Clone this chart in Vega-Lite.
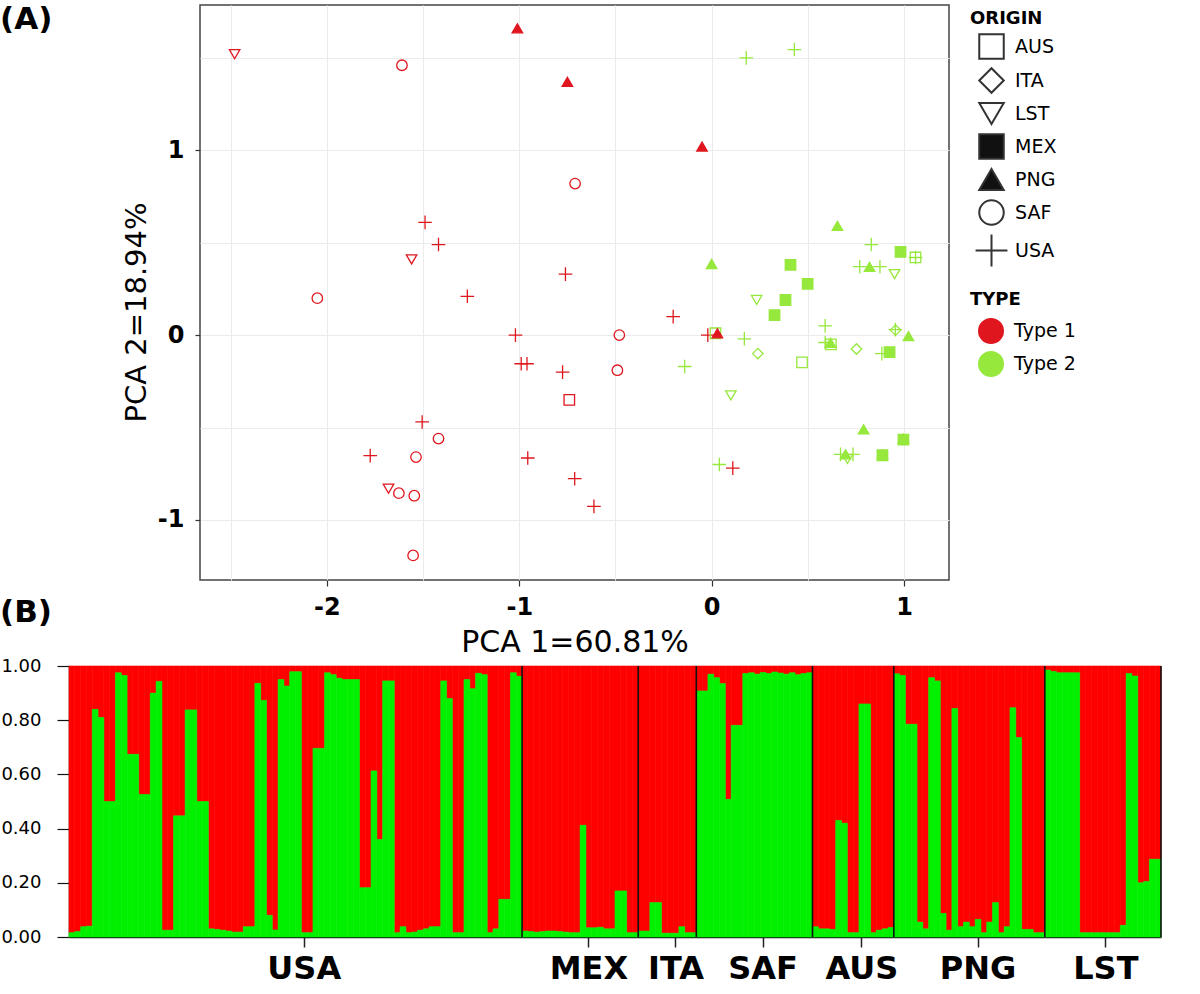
{
  "$schema": "https://vega.github.io/schema/vega-lite/v6.json",
  "padding": {"left": 0, "top": 4, "right": 0, "bottom": 0},
  "background": "white",
  "config": {"font": "DejaVu Sans", "view": {"stroke": "#444", "strokeWidth": 1.5}},
  "datasets": {
    "pca": [
      {"pc1": -2.48, "pc2": 1.52, "origin": "LST", "type": "Type 1"},
      {"pc1": -1.61, "pc2": 1.46, "origin": "SAF", "type": "Type 1"},
      {"pc1": -1.01, "pc2": 1.66, "origin": "PNG", "type": "Type 1"},
      {"pc1": -0.75, "pc2": 1.37, "origin": "PNG", "type": "Type 1"},
      {"pc1": -0.05, "pc2": 1.02, "origin": "PNG", "type": "Type 1"},
      {"pc1": -0.71, "pc2": 0.82, "origin": "SAF", "type": "Type 1"},
      {"pc1": -1.49, "pc2": 0.61, "origin": "USA", "type": "Type 1"},
      {"pc1": -1.42, "pc2": 0.49, "origin": "USA", "type": "Type 1"},
      {"pc1": -1.56, "pc2": 0.41, "origin": "LST", "type": "Type 1"},
      {"pc1": -0.76, "pc2": 0.33, "origin": "USA", "type": "Type 1"},
      {"pc1": -2.05, "pc2": 0.2, "origin": "SAF", "type": "Type 1"},
      {"pc1": -1.27, "pc2": 0.21, "origin": "USA", "type": "Type 1"},
      {"pc1": -1.02, "pc2": 0.0, "origin": "USA", "type": "Type 1"},
      {"pc1": -0.48, "pc2": 0.0, "origin": "SAF", "type": "Type 1"},
      {"pc1": -0.99, "pc2": -0.155, "origin": "USA", "type": "Type 1"},
      {"pc1": -0.96, "pc2": -0.155, "origin": "USA", "type": "Type 1"},
      {"pc1": -0.775, "pc2": -0.2, "origin": "USA", "type": "Type 1"},
      {"pc1": -0.49, "pc2": -0.19, "origin": "SAF", "type": "Type 1"},
      {"pc1": -0.74, "pc2": -0.35, "origin": "AUS", "type": "Type 1"},
      {"pc1": -1.505, "pc2": -0.47, "origin": "USA", "type": "Type 1"},
      {"pc1": -1.42, "pc2": -0.56, "origin": "SAF", "type": "Type 1"},
      {"pc1": -1.775, "pc2": -0.652, "origin": "USA", "type": "Type 1"},
      {"pc1": -1.537, "pc2": -0.66, "origin": "SAF", "type": "Type 1"},
      {"pc1": -0.956, "pc2": -0.665, "origin": "USA", "type": "Type 1"},
      {"pc1": -0.712, "pc2": -0.777, "origin": "USA", "type": "Type 1"},
      {"pc1": -1.68, "pc2": -0.831, "origin": "LST", "type": "Type 1"},
      {"pc1": -1.626, "pc2": -0.855, "origin": "SAF", "type": "Type 1"},
      {"pc1": -1.546, "pc2": -0.869, "origin": "SAF", "type": "Type 1"},
      {"pc1": -0.612, "pc2": -0.927, "origin": "USA", "type": "Type 1"},
      {"pc1": -1.552, "pc2": -1.192, "origin": "SAF", "type": "Type 1"},
      {"pc1": -0.2, "pc2": 0.1, "origin": "USA", "type": "Type 1"},
      {"pc1": -0.02, "pc2": 0.0, "origin": "USA", "type": "Type 1"},
      {"pc1": 0.11, "pc2": -0.72, "origin": "USA", "type": "Type 1"},
      {"pc1": 0.18, "pc2": 1.5, "origin": "USA", "type": "Type 2"},
      {"pc1": 0.43, "pc2": 1.545, "origin": "USA", "type": "Type 2"},
      {"pc1": 0.83, "pc2": 0.49, "origin": "USA", "type": "Type 2"},
      {"pc1": 0.77, "pc2": 0.37, "origin": "USA", "type": "Type 2"},
      {"pc1": 0.875, "pc2": 0.37, "origin": "USA", "type": "Type 2"},
      {"pc1": 1.06, "pc2": 0.42, "origin": "USA", "type": "Type 2"},
      {"pc1": 0.59, "pc2": 0.05, "origin": "USA", "type": "Type 2"},
      {"pc1": 0.59, "pc2": -0.04, "origin": "USA", "type": "Type 2"},
      {"pc1": 0.17, "pc2": -0.02, "origin": "USA", "type": "Type 2"},
      {"pc1": -0.14, "pc2": -0.17, "origin": "USA", "type": "Type 2"},
      {"pc1": 0.955, "pc2": 0.03, "origin": "USA", "type": "Type 2"},
      {"pc1": 0.885, "pc2": -0.1, "origin": "USA", "type": "Type 2"},
      {"pc1": 0.04, "pc2": -0.7, "origin": "USA", "type": "Type 2"},
      {"pc1": 0.67, "pc2": -0.645, "origin": "USA", "type": "Type 2"},
      {"pc1": 0.735, "pc2": -0.645, "origin": "USA", "type": "Type 2"},
      {"pc1": 1.06, "pc2": 0.42, "origin": "AUS", "type": "Type 2"},
      {"pc1": 0.02, "pc2": 0.01, "origin": "AUS", "type": "Type 2"},
      {"pc1": 0.62, "pc2": -0.05, "origin": "AUS", "type": "Type 2"},
      {"pc1": 0.47, "pc2": -0.148, "origin": "AUS", "type": "Type 2"},
      {"pc1": 0.24, "pc2": -0.1, "origin": "ITA", "type": "Type 2"},
      {"pc1": 0.753, "pc2": -0.075, "origin": "ITA", "type": "Type 2"},
      {"pc1": 0.956, "pc2": 0.027, "origin": "ITA", "type": "Type 2"},
      {"pc1": 0.951, "pc2": 0.33, "origin": "LST", "type": "Type 2"},
      {"pc1": 0.234, "pc2": 0.19, "origin": "LST", "type": "Type 2"},
      {"pc1": 0.1, "pc2": -0.326, "origin": "LST", "type": "Type 2"},
      {"pc1": 0.706, "pc2": -0.67, "origin": "LST", "type": "Type 2"},
      {"pc1": 0.982, "pc2": 0.45, "origin": "MEX", "type": "Type 2"},
      {"pc1": 0.41, "pc2": 0.38, "origin": "MEX", "type": "Type 2"},
      {"pc1": 0.499, "pc2": 0.277, "origin": "MEX", "type": "Type 2"},
      {"pc1": 0.384, "pc2": 0.19, "origin": "MEX", "type": "Type 2"},
      {"pc1": 0.327, "pc2": 0.108, "origin": "MEX", "type": "Type 2"},
      {"pc1": 0.925, "pc2": -0.092, "origin": "MEX", "type": "Type 2"},
      {"pc1": 0.997, "pc2": -0.565, "origin": "MEX", "type": "Type 2"},
      {"pc1": 0.888, "pc2": -0.65, "origin": "MEX", "type": "Type 2"},
      {"pc1": 0.654, "pc2": 0.591, "origin": "PNG", "type": "Type 2"},
      {"pc1": 0.0, "pc2": 0.385, "origin": "PNG", "type": "Type 2"},
      {"pc1": 0.821, "pc2": 0.369, "origin": "PNG", "type": "Type 2"},
      {"pc1": 0.618, "pc2": -0.042, "origin": "PNG", "type": "Type 2"},
      {"pc1": 1.023, "pc2": -0.005, "origin": "PNG", "type": "Type 2"},
      {"pc1": 0.79, "pc2": -0.51, "origin": "PNG", "type": "Type 2"},
      {"pc1": 0.696, "pc2": -0.645, "origin": "PNG", "type": "Type 2"},
      {"pc1": 0.997, "pc2": -0.56, "origin": "PNG", "type": "Type 2"},
      {"pc1": 0.888, "pc2": -0.645, "origin": "PNG", "type": "Type 2"},
      {"pc1": 0.03, "pc2": 0.01, "origin": "PNG", "type": "Type 1"}
    ],
    "struct": [
      {"id": "USA-01", "q": 0.016}, {"id": "USA-02", "q": 0.02}, {"id": "USA-03", "q": 0.038}, {"id": "USA-04", "q": 0.04}, {"id": "USA-05", "q": 0.84},
      {"id": "USA-06", "q": 0.81}, {"id": "USA-07", "q": 0.5}, {"id": "USA-08", "q": 0.5}, {"id": "USA-09", "q": 0.975}, {"id": "USA-10", "q": 0.965},
      {"id": "USA-11", "q": 0.674}, {"id": "USA-12", "q": 0.674}, {"id": "USA-13", "q": 0.526}, {"id": "USA-14", "q": 0.526}, {"id": "USA-15", "q": 0.9},
      {"id": "USA-16", "q": 0.943}, {"id": "USA-17", "q": 0.025}, {"id": "USA-18", "q": 0.025}, {"id": "USA-19", "q": 0.447}, {"id": "USA-20", "q": 0.447},
      {"id": "USA-21", "q": 0.838}, {"id": "USA-22", "q": 0.838}, {"id": "USA-23", "q": 0.5}, {"id": "USA-24", "q": 0.5}, {"id": "USA-25", "q": 0.03},
      {"id": "USA-26", "q": 0.028}, {"id": "USA-27", "q": 0.025}, {"id": "USA-28", "q": 0.022}, {"id": "USA-29", "q": 0.018}, {"id": "USA-30", "q": 0.018},
      {"id": "USA-31", "q": 0.038}, {"id": "USA-32", "q": 0.038}, {"id": "USA-33", "q": 0.936}, {"id": "USA-34", "q": 0.873}, {"id": "USA-35", "q": 0.08},
      {"id": "USA-36", "q": 0.026}, {"id": "USA-37", "q": 0.95}, {"id": "USA-38", "q": 0.926}, {"id": "USA-39", "q": 0.979}, {"id": "USA-40", "q": 0.979},
      {"id": "USA-41", "q": 0.016}, {"id": "USA-42", "q": 0.016}, {"id": "USA-43", "q": 0.696}, {"id": "USA-44", "q": 0.696}, {"id": "USA-45", "q": 0.975},
      {"id": "USA-46", "q": 0.968}, {"id": "USA-47", "q": 0.955}, {"id": "USA-48", "q": 0.95}, {"id": "USA-49", "q": 0.95}, {"id": "USA-50", "q": 0.95},
      {"id": "USA-51", "q": 0.182}, {"id": "USA-52", "q": 0.182}, {"id": "USA-53", "q": 0.613}, {"id": "USA-54", "q": 0.36}, {"id": "USA-55", "q": 0.945},
      {"id": "USA-56", "q": 0.945}, {"id": "USA-57", "q": 0.016}, {"id": "USA-58", "q": 0.038}, {"id": "USA-59", "q": 0.016}, {"id": "USA-60", "q": 0.018},
      {"id": "USA-61", "q": 0.025}, {"id": "USA-62", "q": 0.03}, {"id": "USA-63", "q": 0.038}, {"id": "USA-64", "q": 0.038}, {"id": "USA-65", "q": 0.945},
      {"id": "USA-66", "q": 0.88}, {"id": "USA-67", "q": 0.016}, {"id": "USA-68", "q": 0.016}, {"id": "USA-69", "q": 0.95}, {"id": "USA-70", "q": 0.916},
      {"id": "USA-71", "q": 0.973}, {"id": "USA-72", "q": 0.968}, {"id": "USA-73", "q": 0.016}, {"id": "USA-74", "q": 0.03}, {"id": "USA-75", "q": 0.139},
      {"id": "USA-76", "q": 0.139}, {"id": "USA-77", "q": 0.975}, {"id": "USA-78", "q": 0.962},
      {"id": "MEX-01", "q": 0.022}, {"id": "MEX-02", "q": 0.02}, {"id": "MEX-03", "q": 0.018}, {"id": "MEX-04", "q": 0.02}, {"id": "MEX-05", "q": 0.022},
      {"id": "MEX-06", "q": 0.022}, {"id": "MEX-07", "q": 0.02}, {"id": "MEX-08", "q": 0.018}, {"id": "MEX-09", "q": 0.016}, {"id": "MEX-10", "q": 0.016},
      {"id": "MEX-11", "q": 0.412}, {"id": "MEX-12", "q": 0.034}, {"id": "MEX-13", "q": 0.034}, {"id": "MEX-14", "q": 0.036}, {"id": "MEX-15", "q": 0.03},
      {"id": "MEX-16", "q": 0.03}, {"id": "MEX-17", "q": 0.17}, {"id": "MEX-18", "q": 0.17}, {"id": "MEX-19", "q": 0.016}, {"id": "MEX-20", "q": 0.016},
      {"id": "ITA-01", "q": 0.022}, {"id": "ITA-02", "q": 0.022}, {"id": "ITA-03", "q": 0.127}, {"id": "ITA-04", "q": 0.127}, {"id": "ITA-05", "q": 0.014},
      {"id": "ITA-06", "q": 0.014}, {"id": "ITA-07", "q": 0.014}, {"id": "ITA-08", "q": 0.038}, {"id": "ITA-09", "q": 0.016}, {"id": "ITA-10", "q": 0.016},
      {"id": "SAF-01", "q": 0.908}, {"id": "SAF-02", "q": 0.908}, {"id": "SAF-03", "q": 0.97}, {"id": "SAF-04", "q": 0.957}, {"id": "SAF-05", "q": 0.935},
      {"id": "SAF-06", "q": 0.508}, {"id": "SAF-07", "q": 0.781}, {"id": "SAF-08", "q": 0.781}, {"id": "SAF-09", "q": 0.972}, {"id": "SAF-10", "q": 0.975},
      {"id": "SAF-11", "q": 0.97}, {"id": "SAF-12", "q": 0.976}, {"id": "SAF-13", "q": 0.972}, {"id": "SAF-14", "q": 0.978}, {"id": "SAF-15", "q": 0.974},
      {"id": "SAF-16", "q": 0.97}, {"id": "SAF-17", "q": 0.975}, {"id": "SAF-18", "q": 0.968}, {"id": "SAF-19", "q": 0.972}, {"id": "SAF-20", "q": 0.975},
      {"id": "AUS-01", "q": 0.038}, {"id": "AUS-02", "q": 0.03}, {"id": "AUS-03", "q": 0.03}, {"id": "AUS-04", "q": 0.028}, {"id": "AUS-05", "q": 0.43},
      {"id": "AUS-06", "q": 0.42}, {"id": "AUS-07", "q": 0.016}, {"id": "AUS-08", "q": 0.016}, {"id": "AUS-09", "q": 0.86}, {"id": "AUS-10", "q": 0.86},
      {"id": "AUS-11", "q": 0.016}, {"id": "AUS-12", "q": 0.025}, {"id": "AUS-13", "q": 0.03}, {"id": "AUS-14", "q": 0.035},
      {"id": "PNG-01", "q": 0.971}, {"id": "PNG-02", "q": 0.965}, {"id": "PNG-03", "q": 0.785}, {"id": "PNG-04", "q": 0.785}, {"id": "PNG-05", "q": 0.055},
      {"id": "PNG-06", "q": 0.03}, {"id": "PNG-07", "q": 0.957}, {"id": "PNG-08", "q": 0.945}, {"id": "PNG-09", "q": 0.087}, {"id": "PNG-10", "q": 0.025},
      {"id": "PNG-11", "q": 0.843}, {"id": "PNG-12", "q": 0.038}, {"id": "PNG-13", "q": 0.055}, {"id": "PNG-14", "q": 0.038}, {"id": "PNG-15", "q": 0.065},
      {"id": "PNG-16", "q": 0.016}, {"id": "PNG-17", "q": 0.055}, {"id": "PNG-18", "q": 0.127}, {"id": "PNG-19", "q": 0.016}, {"id": "PNG-20", "q": 0.038},
      {"id": "PNG-21", "q": 0.846}, {"id": "PNG-22", "q": 0.736}, {"id": "PNG-23", "q": 0.028}, {"id": "PNG-24", "q": 0.028}, {"id": "PNG-25", "q": 0.016},
      {"id": "PNG-26", "q": 0.016},
      {"id": "LST-01", "q": 0.985}, {"id": "LST-02", "q": 0.98}, {"id": "LST-03", "q": 0.975}, {"id": "LST-04", "q": 0.975}, {"id": "LST-05", "q": 0.975},
      {"id": "LST-06", "q": 0.975}, {"id": "LST-07", "q": 0.016}, {"id": "LST-08", "q": 0.016}, {"id": "LST-09", "q": 0.016}, {"id": "LST-10", "q": 0.016},
      {"id": "LST-11", "q": 0.016}, {"id": "LST-12", "q": 0.016}, {"id": "LST-13", "q": 0.016}, {"id": "LST-14", "q": 0.043}, {"id": "LST-15", "q": 0.972},
      {"id": "LST-16", "q": 0.963}, {"id": "LST-17", "q": 0.2}, {"id": "LST-18", "q": 0.205}, {"id": "LST-19", "q": 0.287}, {"id": "LST-20", "q": 0.287}
    ]
  },
  "vconcat": [
    {
      "hconcat": [
        {
          "width": 52,
          "height": 10,
          "view": {"stroke": null},
          "title": {"text": "(A)", "anchor": "start", "frame": "group", "dx": -69, "dy": 32, "offset": 0, "baseline": "top", "fontSize": 31, "font": "DejaVu Sans", "fontWeight": "bold", "color": "black"},
          "data": {"values": [{"label": ""}]},
          "mark": {"type": "text"},
          "encoding": {"text": {"field": "label"}}
        },
        {
          "width": 749,
          "height": 575,
          "data": {"name": "pca"},
          "mark": {"type": "point", "filled": false, "size": 110, "strokeWidth": 1.3, "opacity": 1},
          "encoding": {
            "x": {
              "field": "pc1", "type": "quantitative",
              "scale": {"domain": [-2.66, 1.234], "nice": false, "zero": false},
              "axis": {
                "values": [-2.5, -2, -1.5, -1, -0.5, 0, 0.5, 1],
                "grid": true, "gridColor": "#ebebeb", "gridWidth": 1, "domain": false,
                "tickColor": {"condition": {"test": "datum.value % 1 !== 0", "value": "transparent"}, "value": "#333"},
                "tickSize": 6, "tickWidth": 1.2,
                "labelExpr": "datum.value % 1 === 0 ? (datum.value < 0 ? '-' : '') + abs(datum.value) : ''",
                "labelFont": "DejaVu Sans", "labelFontWeight": "bold", "labelFontSize": 24, "labelColor": "black", "labelPadding": 9,
                "title": "PCA 1=60.81%", "titleFont": "DejaVu Sans", "titleFontWeight": "normal", "titleFontSize": 30, "titleColor": "black", "titlePadding": 8
              }
            },
            "y": {
              "field": "pc2", "type": "quantitative",
              "scale": {"domain": [-1.325, 1.786], "nice": false, "zero": false},
              "axis": {
                "values": [-1, -0.5, 0, 0.5, 1, 1.5],
                "grid": true, "gridColor": "#ebebeb", "gridWidth": 1, "domain": false,
                "tickColor": {"condition": {"test": "datum.value % 1 !== 0", "value": "transparent"}, "value": "#333"},
                "tickSize": 5, "tickWidth": 1.2,
                "labelExpr": "datum.value % 1 === 0 ? (datum.value < 0 ? '-' : '') + abs(datum.value) : ''",
                "labelFont": "DejaVu Sans", "labelFontWeight": "bold", "labelFontSize": 24, "labelColor": "black", "labelPadding": 11,
                "title": "PCA 2=18.94%", "titleFont": "DejaVu Sans", "titleFontWeight": "normal", "titleFontSize": 29, "titleColor": "black", "titlePadding": 6, "titleY": 307
              }
            },
            "shape": {
              "field": "origin", "type": "nominal",
              "scale": {"domain": ["AUS", "ITA", "LST", "MEX", "PNG", "SAF", "USA"], "range": ["square", "diamond", "triangle-down", "square", "triangle-up", "circle", "M-1.3,0H1.3M0,-1.3V1.3"]},
              "legend": {
                "orient": "none", "legendX": 770, "legendY": 5, "padding": 0,
                "title": "ORIGIN", "titleFont": "DejaVu Sans", "titleFontWeight": "bold", "titleFontSize": 18, "titleColor": "black", "titlePadding": 5,
                "labelFont": "DejaVu Sans", "labelFontSize": 19, "labelColor": "black", "labelOffset": 10,
                "symbolSize": 600, "symbolStrokeWidth": 2, "symbolStrokeColor": "#333", "symbolOffset": 8, "rowPadding": 1,
                "encoding": {"symbols": {"fill": {"condition": {"test": "datum.value === 'MEX' || datum.value === 'PNG'", "value": "#111"}, "value": "transparent"}, "stroke": {"value": "#333"}}}
              }
            },
            "color": {
              "field": "type", "type": "nominal",
              "scale": {"domain": ["Type 1", "Type 2"], "range": ["#e0161f", "#96e83c"]},
              "legend": {
                "orient": "none", "legendX": 770, "legendY": 286, "padding": 0,
                "title": "TYPE", "titleFont": "DejaVu Sans", "titleFontWeight": "bold", "titleFontSize": 18, "titleColor": "black", "titlePadding": 9,
                "labelFont": "DejaVu Sans", "labelFontSize": 19, "labelColor": "black", "labelOffset": 10,
                "symbolType": "circle", "symbolSize": 600, "symbolOffset": 8, "rowPadding": 1,
                "encoding": {"symbols": {"fill": {"condition": {"test": "datum.value === 'Type 1'", "value": "#f5001c"}, "value": "#5ef05a"}, "stroke": {"value": "transparent"}, "opacity": {"value": 1}}}
              }
            },
            "fill": {
              "condition": {
                "test": "datum.origin === 'MEX' || datum.origin === 'PNG'",
                "field": "type", "type": "nominal",
                "scale": {"domain": ["Type 1", "Type 2"], "range": ["#e0161f", "#96e83c"]},
                "legend": null
              },
              "value": "transparent"
            }
          }
        }
      ],
      "spacing": 0,
      "resolve": {"scale": {"color": "independent", "shape": "independent", "fill": "independent"}, "legend": {"color": "independent", "shape": "independent", "fill": "independent"}}
    },
    {
      "width": 1092,
      "height": 271,
      "view": {"stroke": null},
      "title": {"text": "(B)", "anchor": "start", "frame": "group", "dx": -69, "offset": 28, "fontSize": 31, "font": "DejaVu Sans", "fontWeight": "bold", "color": "black"},
      "data": {"name": "struct"},
      "encoding": {
        "x": {
          "field": "id", "type": "nominal", "sort": null,
          "scale": {"paddingInner": 0, "paddingOuter": 0},
          "axis": {
            "values": ["USA-41", "MEX-12", "ITA-07", "SAF-12", "AUS-09", "PNG-15", "LST-11"],
            "labelExpr": "split(datum.value, '-')[0]", "labelAngle": 0,
            "labelFont": "DejaVu Sans", "labelFontWeight": "bold", "labelFontSize": 32, "labelColor": "black", "labelPadding": 6,
            "tickColor": "#222", "tickSize": 10, "tickWidth": 1.5,
            "domainColor": "#111", "domainWidth": 1.5, "grid": false, "title": null
          }
        }
      },
      "layer": [
        {
          "mark": {"type": "bar", "color": "#fe0000", "stroke": "#fe0000", "strokeWidth": 0.6},
          "encoding": {
            "y": {
              "field": "q", "type": "quantitative",
              "scale": {"domain": [0, 1], "nice": false},
              "axis": {
                "values": [0, 0.2, 0.4, 0.6, 0.8, 1], "format": ".2f",
                "labelFont": "DejaVu Sans", "labelFontSize": 18, "labelColor": "black", "labelPadding": 16,
                "tickSize": 12, "tickColor": "#111", "tickWidth": 1.2, "domainColor": "#111", "domainWidth": 1.5, "grid": false, "title": null
              }
            },
            "y2": {"datum": 1}
          }
        },
        {
          "mark": {"type": "bar", "color": "#00f000", "stroke": "#00f000", "strokeWidth": 0.6},
          "encoding": {"y": {"field": "q", "type": "quantitative"}}
        },
        {
          "mark": {"type": "rule", "color": "#111", "strokeWidth": 1.6},
          "encoding": {
            "x": {"field": "id", "type": "nominal", "sort": null, "bandPosition": 0},
            "y": {"datum": 0}, "y2": {"datum": 1},
            "opacity": {"condition": {"test": "indexof(['MEX-01','ITA-01','SAF-01','AUS-01','PNG-01','LST-01'], datum.id) >= 0", "value": 1}, "value": 0}
          }
        },
        {
          "mark": {"type": "rule", "color": "#111", "strokeWidth": 1.6},
          "encoding": {
            "x": {"field": "id", "type": "nominal", "sort": null, "bandPosition": 1},
            "y": {"datum": 0}, "y2": {"datum": 1},
            "opacity": {"condition": {"test": "datum.id === 'LST-20'", "value": 1}, "value": 0}
          }
        }
      ]
    }
  ],
  "spacing": -61,
  "resolve": {"scale": {"color": "independent", "shape": "independent", "fill": "independent"}, "legend": {"color": "independent", "shape": "independent", "fill": "independent"}}
}
